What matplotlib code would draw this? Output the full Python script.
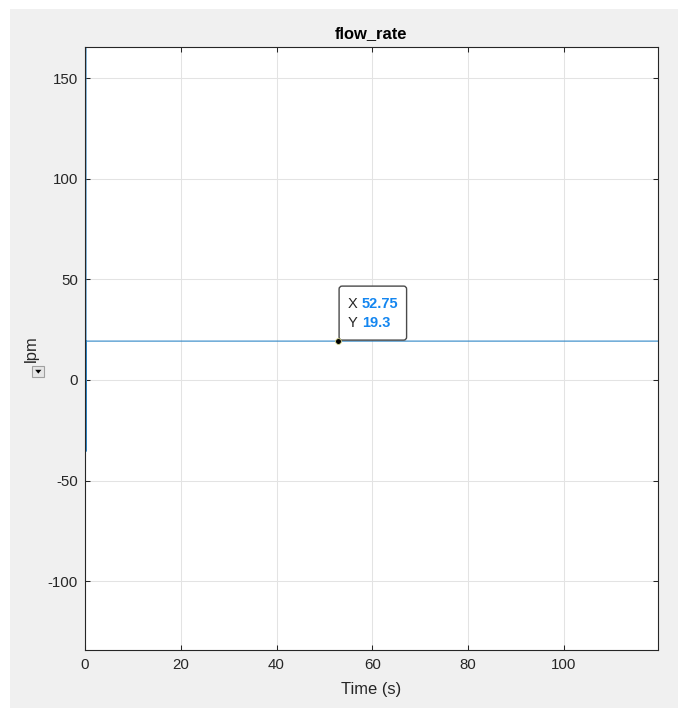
import matplotlib
matplotlib.use("Agg")
import matplotlib.pyplot as plt
import matplotlib.transforms as mtransforms
from matplotlib.patches import FancyBboxPatch, Rectangle, Polygon

# ---------------- data ----------------
time_s = [0.2, 0.21, 0.25, 120.0]
flow_lpm = [300.0, -35.5, 19.3, 19.3]
tip_x = 52.75
tip_y = 19.3
x_ticks = [0, 20, 40, 60, 80, 100]
y_ticks = [-100, -50, 0, 50, 100, 150]
x_limits = (0, 119.6)
y_limits = (-134.2, 165.6)
title_text = "flow_rate"
x_label = "Time (s)"
y_label = "lpm"

# ---------------- style ----------------
plt.rcParams["font.family"] = ["Liberation Sans", "DejaVu Sans"]
W, H, DPI = 678, 708, 100
TXT = "#262626"
LINE = "#2f86c6"
TIPBLUE = "#1486f0"

fig = plt.figure(figsize=(W / DPI, H / DPI), dpi=DPI, facecolor="white")
fig.patches.append(Rectangle((9.5 / W, 0), 1 - 9.5 / W, (H - 9.3) / H,
                             transform=fig.transFigure, facecolor="#f0f0f0",
                             edgecolor="none", zorder=-10))

ax_h = 650 - 46.7
ax = fig.add_axes([85 / W, (H - 650) / H, (657.7 - 85) / W, ax_h / H])
ax.set_facecolor("white")

ax.plot(time_s, flow_lpm, color=LINE, lw=0.8, zorder=2)

ax.set_xlim(*x_limits)
ax.set_ylim(*y_limits)
ax.set_xticks(x_ticks)
ax.set_yticks(y_ticks)
ax.set_xticklabels([str(v) for v in x_ticks])
ax.set_yticklabels([str(v) for v in y_ticks])

ax.grid(True, color="#e3e3e3", lw=0.75, zorder=0)
ax.set_axisbelow(True)

for s in ax.spines.values():
    s.set_color(TXT)
    s.set_linewidth(0.8)

ax.tick_params(axis="both", which="major", direction="in", length=3.8, width=0.75,
               color=TXT, labelcolor=TXT, labelsize=10.8,
               top=True, right=True)
ax.tick_params(axis="x", pad=6)
ax.tick_params(axis="y", pad=5)

ax.set_title(title_text, fontsize=11.9, fontweight="bold", color="black", pad=6)
ax.set_xlabel(x_label, fontsize=11.9, color=TXT, va="center")
ax.xaxis.set_label_coords(0.5, -(689.5 - 650) / ax_h)
ax.set_ylabel(y_label, fontsize=11.9, color=TXT, va="center")
ax.yaxis.set_label_coords((31.5 - 85) / (657.7 - 85), 0.5)

# small dropdown icon under the y label
ic = Rectangle((32.3 / W, (H - 377.3) / H), 12 / W, 11.6 / H, transform=fig.transFigure,
               facecolor="#e6e6e6", edgecolor="#a0a0a0", lw=0.8, zorder=5)
fig.patches.append(ic)
tri = Polygon([(35.2 / W, (H - 369.8) / H), (41.4 / W, (H - 369.8) / H),
               (38.3 / W, (H - 373.6) / H)], closed=True, transform=fig.transFigure,
              facecolor="black", edgecolor="none", zorder=6)
fig.patches.append(tri)

# ---------------- data tip ----------------
tip_trans = mtransforms.IdentityTransform() + mtransforms.ScaledTranslation(tip_x, tip_y, ax.transData)
box = FancyBboxPatch((1.5, 1.0), 67.5, 54.0,
                     boxstyle="round,pad=0,rounding_size=3",
                     transform=tip_trans, facecolor="white", edgecolor="#4a4a4a",
                     lw=1.0, zorder=6, clip_on=False)
ax.add_patch(box)
ax.plot([tip_x], [tip_y], marker="o", ms=4.2, mfc="black", mec="#d8d890", mew=0.6,
        ls="none", zorder=7)

fs_tip = 10.5
ax.annotate("X", xy=(tip_x, tip_y), xytext=(10, 37), textcoords="offset pixels",
            ha="left", va="center", fontsize=fs_tip, color=TXT, zorder=8)
ax.annotate(f"{tip_x:.2f}", xy=(tip_x, tip_y), xytext=(24.5, 37), textcoords="offset pixels",
            ha="left", va="center", fontsize=fs_tip, color=TIPBLUE, fontweight="bold", zorder=8)
ax.annotate("Y", xy=(tip_x, tip_y), xytext=(10, 18), textcoords="offset pixels",
            ha="left", va="center", fontsize=fs_tip, color=TXT, zorder=8)
ax.annotate(f"{tip_y:g}", xy=(tip_x, tip_y), xytext=(24.5, 18), textcoords="offset pixels",
            ha="left", va="center", fontsize=fs_tip, color=TIPBLUE, fontweight="bold", zorder=8)

fig.savefig("out.png", dpi=DPI, facecolor=fig.get_facecolor())
